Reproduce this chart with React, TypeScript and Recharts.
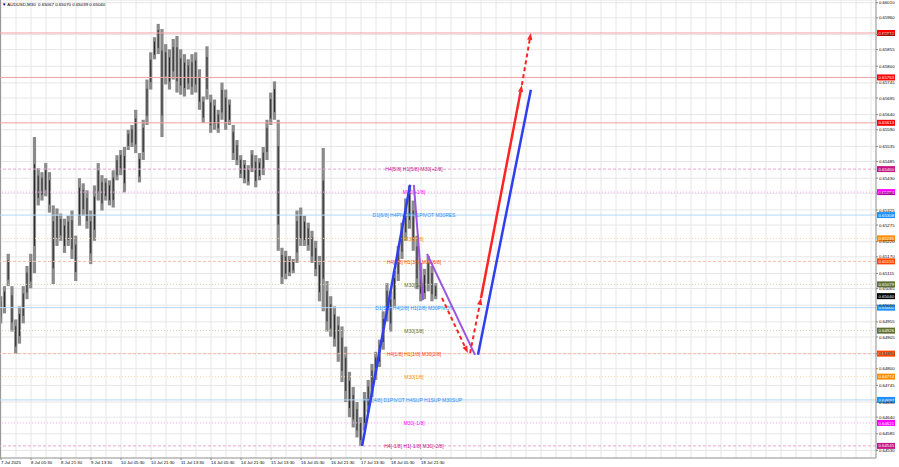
import { ComposedChart, Bar, XAxis, YAxis, CartesianGrid, ReferenceLine } from "recharts";

// 2-hour buckets of AUDUSD M30
const highs = [
  0.6504, 0.65073, 0.6518, 0.65073, 0.64963, 0.65006, 0.65073, 0.6514, 0.6518, 0.65566,
  0.65463, 0.6545, 0.6548, 0.6545, 0.6534, 0.6533, 0.65313, 0.65296, 0.65306, 0.65323,
  0.6524, 0.6543, 0.65413, 0.6539, 0.65323, 0.65406, 0.6548, 0.6544, 0.6543, 0.65423,
  0.65456, 0.65506, 0.65523, 0.65533, 0.6559, 0.65606, 0.65656, 0.65513, 0.65623, 0.65756,
  0.65846, 0.65896, 0.6594, 0.65923, 0.65873, 0.65856, 0.6589, 0.659, 0.65856, 0.6584,
  0.65823, 0.6584, 0.65846, 0.6579, 0.657, 0.65866, 0.65706, 0.6569, 0.65656, 0.65746,
  0.65723, 0.6569, 0.65606, 0.65556, 0.65506, 0.6549, 0.65473, 0.65523, 0.65506, 0.65496,
  0.65533, 0.65623, 0.65713, 0.6575, 0.65623, 0.652, 0.6519, 0.65173, 0.65163, 0.65323,
  0.65333, 0.65306, 0.65283, 0.65256, 0.65223, 0.65173, 0.6553, 0.6509, 0.6504, 0.65006,
  0.64973, 0.6494, 0.64873, 0.6479, 0.6474, 0.6469, 0.6464, 0.64723, 0.64763, 0.64816,
  0.64856, 0.64896, 0.6499, 0.65083, 0.65056, 0.65123, 0.65206, 0.65283, 0.65363, 0.65406,
  0.65356, 0.6524, 0.6515, 0.6513, 0.65173, 0.6514, 0.65083,
];
const lows = [
  0.6495, 0.64983, 0.65073, 0.64923, 0.6485, 0.64883, 0.6495, 0.6503, 0.65066, 0.65116,
  0.6534, 0.65356, 0.6537, 0.65316, 0.6508, 0.65206, 0.65223, 0.65183, 0.65206, 0.65163,
  0.6509, 0.65273, 0.65306, 0.65263, 0.65146, 0.65223, 0.65356, 0.65323, 0.65356, 0.6534,
  0.65333, 0.65423, 0.6544, 0.65383, 0.65523, 0.65533, 0.65513, 0.65416, 0.6549, 0.65606,
  0.65723, 0.65823, 0.6584, 0.65566, 0.6574, 0.65723, 0.65756, 0.65713, 0.65706, 0.657,
  0.65723, 0.65706, 0.65713, 0.65656, 0.65613, 0.6569, 0.6558, 0.6559, 0.6558, 0.65623,
  0.6559, 0.65606, 0.6549, 0.65473, 0.6543, 0.65413, 0.65406, 0.6545, 0.654, 0.65423,
  0.6544, 0.6549, 0.65606, 0.65623, 0.6519, 0.6508, 0.65096, 0.65106, 0.65116, 0.6515,
  0.65206, 0.65206, 0.6519, 0.6515, 0.65106, 0.65023, 0.6499, 0.64923, 0.64906, 0.64873,
  0.64823, 0.64756, 0.6469, 0.6464, 0.64606, 0.64573, 0.64545, 0.64596, 0.64656, 0.64706,
  0.64763, 0.64806, 0.64863, 0.64956, 0.64923, 0.65006, 0.6509, 0.65163, 0.65223, 0.65263,
  0.6519, 0.65063, 0.65023, 0.6503, 0.65056, 0.65023, 0.6503,
];

const dateLabels = [
  "7 Jul 2025", "8 Jul 05:30", "8 Jul 21:30", "9 Jul 13:30", "10 Jul 05:30",
  "10 Jul 21:30", "11 Jul 13:30", "14 Jul 05:30", "14 Jul 21:30", "15 Jul 13:30",
  "16 Jul 05:30", "16 Jul 21:30", "17 Jul 13:30", "18 Jul 05:30", "18 Jul 21:30",
];

const priceTicks = [
  0.6601, 0.6596, 0.65905, 0.65855, 0.658, 0.65745, 0.65695, 0.6564, 0.6559, 0.65535,
  0.65485, 0.6543, 0.6538, 0.65325, 0.65275, 0.6522, 0.6517, 0.65115, 0.65065, 0.6501,
  0.64955, 0.64905, 0.6485, 0.648, 0.64745, 0.6469, 0.6464, 0.64585, 0.6453,
];

// murrey-style levels
const levelPrices = [
  0.6591, 0.65763, 0.65613, 0.6546, 0.65384, 0.65308, 0.65231, 0.65155,
  0.65079, 0.65002, 0.64926, 0.6485, 0.64774, 0.64697, 0.64621, 0.64545,
];
const levelNames = [
  "", "", "",
  "H4[5/8] H1[5/8] M30[+2/8]",
  "M30[+1/8]",
  "D1[6/8] H4PIVOT H1PIVOT M30RES",
  "M30[7/8]",
  "H4[3/8] H1[3/8] M30[6/8]",
  "M30[5/8]",
  "D1[5/8] H4[2/8] H1[2/8] M30PIVOT",
  "M30[3/8]",
  "H4[1/8] H1[1/8] M30[2/8]",
  "M30[1/8]",
  "D1[4/8] D1PIVOT H4SUP H1SUP M30SUP",
  "M30[-1/8]",
  "H4[-1/8] H1[-1/8] M30[-2/8]",
];
const lastPrice = 0.6504;
const header = "AUDUSD,M30  0.65067 0.65070 0.65039 0.65040";

// projection legs: [t, price] start and end
const blueLeg1 = [[96.3, 0.64545], [109.1, 0.65408]];
const purpleLeg1 = [[110.1, 0.65408], [112.5, 0.65027]];
const purpleLeg2 = [[113.6, 0.6518], [126.4, 0.64846]];
const redLeg1 = [[117.6, 0.65034], [124.5, 0.64852]];
const redLeg2 = [[125.1, 0.64852], [128.0, 0.65034]];
const redLeg3 = [[128.0, 0.65034], [138.9, 0.65738]];
const redLeg4 = [[138.9, 0.65738], [141.3, 0.6591]];
const blueLeg2 = [[127.2, 0.64846], [141.3, 0.65722]];

const candles = highs.map((h, i) => ({ t: i, range: [lows[i], h] }));

const W = 899;
const H = 467;
const PLOT_W = 876;
const PX_PER_T = 3.75;
const xMin = -1 / PX_PER_T;
const xMax = xMin + PLOT_W / PX_PER_T;
const xTicks: number[] = [];
for (let t = 0; t <= xMax; t += 4) xTicks.push(t);

const FONT = "'Liberation Sans', Arial, sans-serif";

const levelStyle = (p: number) => {
  const red = { line: "#f4a0a0", box: "#ff0000", dash: undefined as string | undefined };
  const styles: Record<string, { line: string; box: string; dash?: string }> = {
    "0.6591": red,
    "0.65763": red,
    "0.65613": red,
    "0.6546": { line: "#e6a6cf", box: "#c71585", dash: "3 2" },
    "0.64545": { line: "#e6a6cf", box: "#c71585", dash: "3 2" },
    "0.65384": { line: "#f5a8f5", box: "#ff00ff", dash: "1 2" },
    "0.64621": { line: "#f5a8f5", box: "#ff00ff", dash: "1 2" },
    "0.65308": { line: "#b4d6f7", box: "#1e90ff" },
    "0.65002": { line: "#b4d6f7", box: "#1e90ff" },
    "0.64697": { line: "#b4d6f7", box: "#1e90ff" },
    "0.65231": { line: "#f8d8ae", box: "#ff8c00", dash: "1 2" },
    "0.64774": { line: "#f8d8ae", box: "#ff8c00", dash: "1 2" },
    "0.65155": { line: "#f8bba6", box: "#ff4500", dash: "3 2" },
    "0.6485": { line: "#f8bba6", box: "#ff4500", dash: "3 2" },
    "0.65079": { line: "#ccd2b4", box: "#5f6f2d", dash: "1 2" },
    "0.64926": { line: "#ccd2b4", box: "#5f6f2d", dash: "1 2" },
  };
  return styles[String(p)] || red;
};

const PriceBox = ({ viewBox, price, color }: any) => {
  if (!viewBox) return null;
  const y = viewBox.y + (viewBox.height || 0) / 2;
  const x = viewBox.x + viewBox.width + 1;
  return (
    <g>
      <rect x={x} y={y - 3} width={18} height={6} fill={color} />
      <text x={x + 1.5} y={y + 1.6} fontSize={4.3} fill="#fff" fontFamily={FONT}>
        {price.toFixed(5)}
      </text>
    </g>
  );
};

const LevelLabel = ({ viewBox, price, name, color }: any) => {
  if (!viewBox) return null;
  const y = viewBox.y + (viewBox.height || 0) / 2;
  return (
    <g>
      {name ? (
        <text x={viewBox.x + 414} y={y + 2.2} fontSize={5} fill={color} textAnchor="middle" fontFamily={FONT}>
          {name}
        </text>
      ) : null}
      <PriceBox viewBox={viewBox} price={price} color={color} />
    </g>
  );
};

const legShape = (color: string, width: number, dash?: string, arrow?: boolean) => (props: any) => {
  const { x1, y1, x2, y2 } = props;
  if ([x1, y1, x2, y2].some((v) => v == null || isNaN(v))) return <g />;
  const a = Math.atan2(y2 - y1, x2 - x1);
  const len = 7;
  const half = 2.6;
  const bx = x2 - len * Math.cos(a);
  const by = y2 - len * Math.sin(a);
  const px = -Math.sin(a) * half;
  const py = Math.cos(a) * half;
  return (
    <g>
      <line
        x1={x1}
        y1={y1}
        x2={arrow ? bx : x2}
        y2={arrow ? by : y2}
        stroke={color}
        strokeWidth={width}
        strokeDasharray={dash}
      />
      {arrow && (
        <polygon points={`${x2},${y2} ${bx + px},${by + py} ${bx - px},${by - py}`} fill={color} />
      )}
    </g>
  );
};

const seg = (leg: number[][]) => [
  { x: leg[0][0], y: leg[0][1] },
  { x: leg[1][0], y: leg[1][1] },
];

const Candle = (props: any) => {
  const { x, y, width, height } = props;
  if (height == null || isNaN(height)) return <g />;
  const cx = x + width / 2;
  return (
    <g>
      <rect x={x} y={y} width={width} height={Math.max(height, 1)} fill="#8a8a8a" />
      <line x1={cx} y1={y + height * 0.2} x2={cx} y2={y + height * 0.8} stroke="#2a2a2a" strokeWidth={1} />
    </g>
  );
};

const DateTick = ({ x, y, payload }: any) => {
  const idx = payload.value / 8;
  if (!Number.isInteger(idx) || idx >= dateLabels.length) return <g />;
  return (
    <g>
      <line x1={x} y1={y} x2={x} y2={y + 2} stroke="#888" strokeWidth={1} />
      <text x={x} y={y + 6} fontSize={4.3} fill="#000" fontFamily={FONT}>
        {dateLabels[idx]}
      </text>
    </g>
  );
};

const PriceTick = ({ x, y, payload }: any) => (
  <g>
    <line x1={x} y1={y} x2={x + 2} y2={y} stroke="#888" strokeWidth={1} />
    <text x={x + 3} y={y + 1.6} fontSize={4.3} fill="#000" fontFamily={FONT}>
      {payload.value.toFixed(5)}
    </text>
  </g>
);

export default function App() {
  return (
    <div style={{ position: "absolute", left: 0, top: 0, width: W, height: H, background: "#fff" }}>
      <ComposedChart width={W} height={H} data={candles} margin={{ top: 0, right: 0, bottom: 0, left: 0 }}>
        <CartesianGrid stroke="#e6e6e6" strokeWidth={1} />
        <XAxis
          dataKey="t"
          type="number"
          domain={[xMin, xMax]}
          ticks={xTicks}
          allowDataOverflow
          height={9}
          stroke="#999"
          tickLine={false}
          tickSize={0}
          tickMargin={0}
          tick={<DateTick />}
          interval={0}
        />
        <YAxis
          orientation="right"
          type="number"
          domain={[0.64505, 0.66019]}
          ticks={priceTicks}
          allowDataOverflow
          width={23}
          stroke="#999"
          tickLine={false}
          tickSize={0}
          tickMargin={0}
          tick={<PriceTick />}
          interval={0}
        />
        <ReferenceLine x={xMin} stroke="#999" strokeWidth={2} />
        {levelPrices.map((p, i) => {
          const s = levelStyle(p);
          return (
            <ReferenceLine
              key={p}
              y={p}
              stroke={s.line}
              strokeWidth={1}
              strokeDasharray={s.dash}
              label={(lp: any) => (
                <LevelLabel viewBox={lp.viewBox} price={p} name={levelNames[i]} color={s.box} />
              )}
            />
          );
        })}
        <ReferenceLine
          y={lastPrice}
          stroke="none"
          label={(lp: any) => <PriceBox viewBox={lp.viewBox} price={lastPrice} color="#000" />}
        />
        <Bar dataKey="range" barSize={3.2} shape={<Candle />} isAnimationActive={false} />
        <ReferenceLine segment={seg(blueLeg1)} shape={legShape("#2f3ff0", 2.5)} />
        <ReferenceLine segment={seg(purpleLeg1)} shape={legShape("#9b55e0", 2)} />
        <ReferenceLine segment={seg(purpleLeg2)} shape={legShape("#9b55e0", 2)} />
        <ReferenceLine segment={seg(redLeg1)} shape={legShape("#ff2424", 2, "4 3", true)} />
        <ReferenceLine segment={seg(redLeg2)} shape={legShape("#ff2424", 2, "4 3", true)} />
        <ReferenceLine segment={seg(redLeg3)} shape={legShape("#ff2424", 2.5, undefined, true)} />
        <ReferenceLine segment={seg(redLeg4)} shape={legShape("#ff2424", 2, "4 3", true)} />
        <ReferenceLine segment={seg(blueLeg2)} shape={legShape("#2f3ff0", 2.5)} />
      </ComposedChart>
      <div
        style={{
          position: "absolute",
          left: 2,
          top: 2,
          fontFamily: FONT,
          fontSize: 4.4,
          color: "#000",
          whiteSpace: "pre",
          lineHeight: "6px",
        }}
      >
        {"▼ " + header}
      </div>
    </div>
  );
}
